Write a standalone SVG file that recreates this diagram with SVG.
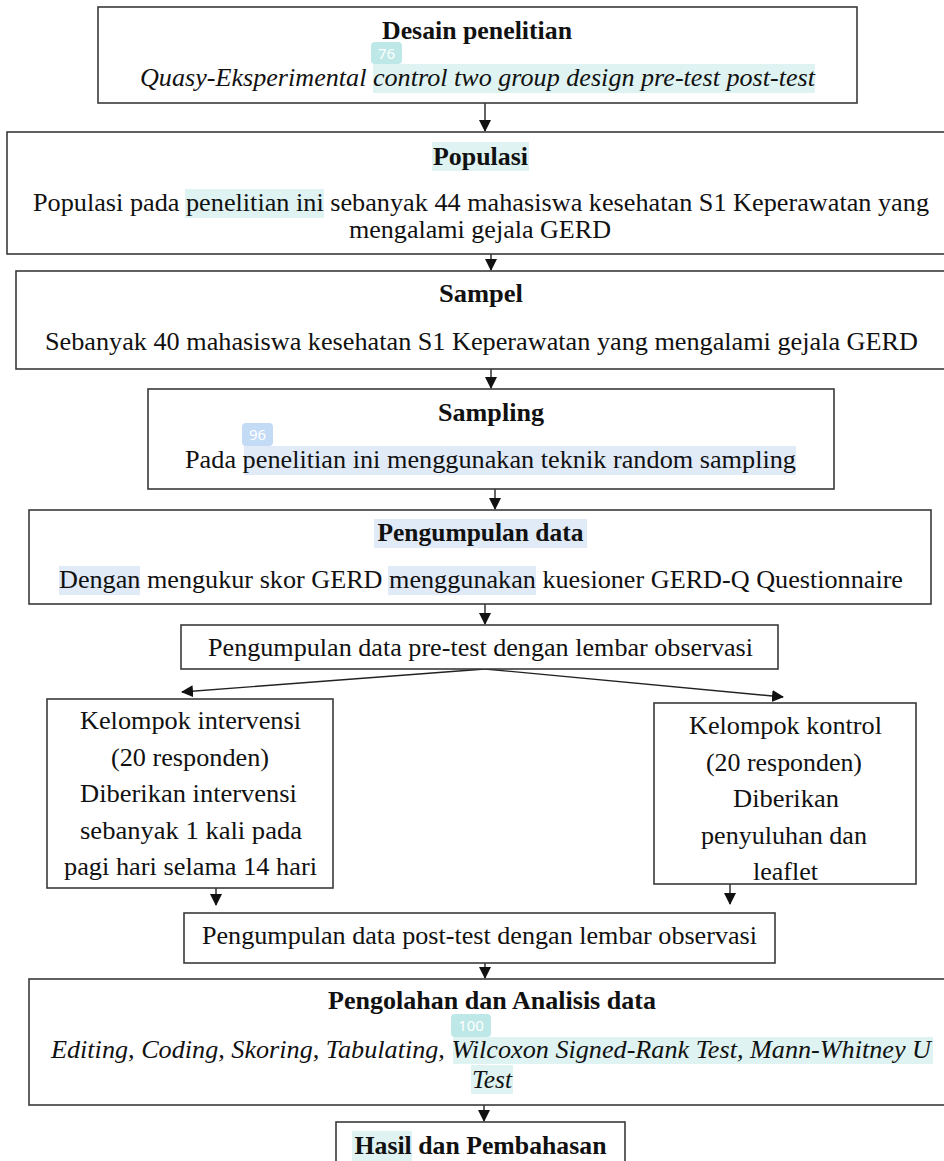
<svg xmlns="http://www.w3.org/2000/svg" width="944" height="1161" viewBox="0 0 944 1161">
<style>
.box{fill:#fff;stroke:#3a3a3a;stroke-width:1.6}
.t{font-family:"Liberation Serif","Times New Roman",serif;font-size:25px;fill:#111;text-anchor:middle}
.b{font-weight:bold}
.i{font-style:italic}
.hc{fill:#dff3f2}
.hb{fill:#e1ebf8}
.bc{fill:#bde8e7}
.bb{fill:#c4dbf6}
.badge{font-family:"Noto Sans","DejaVu Sans",sans-serif;font-size:15px;fill:#fff;text-anchor:middle}
.c{stroke:#222;stroke-width:1.4;fill:none}
</style>
<defs>
<marker id="ah" markerUnits="userSpaceOnUse" markerWidth="12" markerHeight="14" refX="11" refY="6" orient="auto">
<path d="M0,0 L12,6 L0,12 Z" fill="#111"/>
</marker>
</defs>
<rect width="944" height="1161" fill="#fff"/>

<g id="connectors">
<line class="c" x1="485" y1="103" x2="485" y2="131" marker-end="url(#ah)"/>
<line class="c" x1="491" y1="254" x2="491" y2="270" marker-end="url(#ah)"/>
<line class="c" x1="491" y1="369" x2="491" y2="388" marker-end="url(#ah)"/>
<line class="c" x1="495" y1="489" x2="495" y2="509" marker-end="url(#ah)"/>
<line class="c" x1="485" y1="604" x2="485" y2="624" marker-end="url(#ah)"/>
<line class="c" x1="485" y1="669" x2="182" y2="692" marker-end="url(#ah)"/>
<line class="c" x1="485" y1="669" x2="783" y2="697" marker-end="url(#ah)"/>
<line class="c" x1="216" y1="888" x2="216" y2="905" marker-end="url(#ah)"/>
<line class="c" x1="730" y1="884" x2="730" y2="904" marker-end="url(#ah)"/>
<line class="c" x1="485" y1="963" x2="485" y2="978" marker-end="url(#ah)"/>
<line class="c" x1="484" y1="1105" x2="484" y2="1121" marker-end="url(#ah)"/>
</g>

<g id="desain">
<rect class="box" x="98" y="7" width="759" height="96"/>
<rect class="hc" x="373" y="64" width="442" height="29"/>
<rect class="bc" x="371" y="42" width="31" height="22" rx="4"/>
<text class="badge" x="386.5" y="59">76</text>
<text class="t b" x="477" y="39" textLength="190" lengthAdjust="spacingAndGlyphs">Desain penelitian</text>
<text class="t i" x="477.5" y="86" textLength="675" lengthAdjust="spacingAndGlyphs">Quasy-Eksperimental control two group design pre-test post-test</text>
</g>

<g id="populasi">
<rect class="box" x="7" y="132" width="945" height="122"/>
<rect class="hc" x="432" y="142" width="97" height="29"/>
<rect class="hc" x="185" y="189" width="139" height="29"/>
<text class="t b" x="480.5" y="165" textLength="95" lengthAdjust="spacingAndGlyphs">Populasi</text>
<text class="t" x="481" y="211" textLength="896" lengthAdjust="spacingAndGlyphs">Populasi pada penelitian ini sebanyak 44 mahasiswa kesehatan S1 Keperawatan yang</text>
<text class="t" x="480" y="238" textLength="262" lengthAdjust="spacingAndGlyphs">mengalami gejala GERD</text>
</g>

<g id="sampel">
<rect class="box" x="16" y="271" width="936" height="98"/>
<text class="t b" x="481" y="302" textLength="84" lengthAdjust="spacingAndGlyphs">Sampel</text>
<text class="t" x="481.5" y="350" textLength="873" lengthAdjust="spacingAndGlyphs">Sebanyak 40 mahasiswa kesehatan S1 Keperawatan yang mengalami gejala GERD</text>
</g>

<g id="sampling">
<rect class="box" x="148" y="389" width="686" height="100"/>
<rect class="hb" x="244" y="446" width="552" height="29"/>
<rect class="bb" x="242" y="423" width="31" height="23" rx="4"/>
<text class="badge" x="257.5" y="440">96</text>
<text class="t b" x="491" y="421" textLength="106" lengthAdjust="spacingAndGlyphs">Sampling</text>
<text class="t" x="490.5" y="468" textLength="611" lengthAdjust="spacingAndGlyphs">Pada penelitian ini menggunakan teknik random sampling</text>
</g>

<g id="pengumpulan">
<rect class="box" x="29" y="510" width="902" height="94"/>
<rect class="hb" x="374" y="519" width="213" height="29"/>
<rect class="hb" x="59" y="566" width="81" height="29"/>
<rect class="hb" x="388" y="566" width="148" height="29"/>
<text class="t b" x="480.5" y="541" textLength="206" lengthAdjust="spacingAndGlyphs">Pengumpulan data</text>
<text class="t" x="481" y="588" textLength="844" lengthAdjust="spacingAndGlyphs">Dengan mengukur skor GERD menggunakan kuesioner GERD-Q Questionnaire</text>
</g>

<g id="pretest">
<rect class="box" x="181" y="625" width="597" height="44"/>
<text class="t" x="480.5" y="656" textLength="545" lengthAdjust="spacingAndGlyphs">Pengumpulan data pre-test dengan lembar observasi</text>
</g>

<g id="intervensi">
<rect class="box" x="47" y="699" width="286" height="189"/>
<text class="t" x="190.5" y="729" textLength="221" lengthAdjust="spacingAndGlyphs">Kelompok intervensi</text>
<text class="t" x="190" y="766" textLength="158" lengthAdjust="spacingAndGlyphs">(20 responden)</text>
<text class="t" x="188.5" y="802" textLength="217" lengthAdjust="spacingAndGlyphs">Diberikan intervensi</text>
<text class="t" x="191" y="839" textLength="222" lengthAdjust="spacingAndGlyphs">sebanyak 1 kali pada</text>
<text class="t" x="190.5" y="875" textLength="253" lengthAdjust="spacingAndGlyphs">pagi hari selama 14 hari</text>
</g>

<g id="kontrol">
<rect class="box" x="654" y="703" width="262" height="181"/>
<text class="t" x="785.5" y="734" textLength="193" lengthAdjust="spacingAndGlyphs">Kelompok kontrol</text>
<text class="t" x="784" y="771" textLength="156" lengthAdjust="spacingAndGlyphs">(20 responden)</text>
<text class="t" x="786" y="807" textLength="106" lengthAdjust="spacingAndGlyphs">Diberikan</text>
<text class="t" x="784" y="844" textLength="166" lengthAdjust="spacingAndGlyphs">penyuluhan dan</text>
<text class="t" x="785.5" y="880" textLength="65" lengthAdjust="spacingAndGlyphs">leaflet</text>
</g>

<g id="posttest">
<rect class="box" x="184" y="913" width="591" height="50"/>
<text class="t" x="479.5" y="944" textLength="555" lengthAdjust="spacingAndGlyphs">Pengumpulan data post-test dengan lembar observasi</text>
</g>

<g id="analisis">
<rect class="box" x="29" y="979" width="923" height="126"/>
<rect class="hc" x="453" y="1037" width="480" height="27"/>
<rect class="hc" x="471" y="1065" width="42" height="29"/>
<rect class="bc" x="451" y="1014" width="40" height="23" rx="4"/>
<text class="badge" x="471" y="1031">100</text>
<text class="t b" x="492" y="1009" textLength="328" lengthAdjust="spacingAndGlyphs">Pengolahan dan Analisis data</text>
<text class="t i" x="491" y="1058" textLength="880" lengthAdjust="spacingAndGlyphs">Editing, Coding, Skoring, Tabulating, Wilcoxon Signed-Rank Test, Mann-Whitney U</text>
<text class="t i" x="492" y="1088" textLength="40" lengthAdjust="spacingAndGlyphs">Test</text>
</g>

<g id="hasil">
<rect class="box" x="336" y="1122" width="289" height="60"/>
<rect class="hc" x="352" y="1131" width="60" height="30"/>
<text class="t b" x="480.5" y="1154" textLength="252" lengthAdjust="spacingAndGlyphs">Hasil dan Pembahasan</text>
</g>
</svg>
